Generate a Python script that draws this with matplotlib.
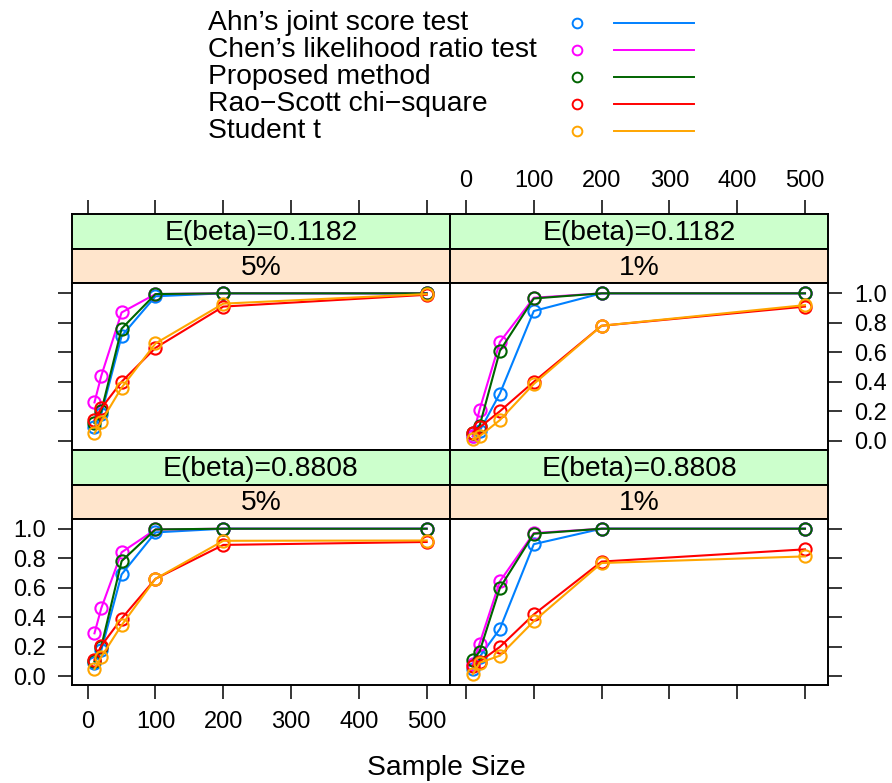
import numpy as np
import matplotlib.pyplot as plt
from matplotlib.lines import Line2D

plt.rcParams["font.family"] = ["Liberation Sans", "DejaVu Sans"]

# sample sizes on the x axis
sample_size = [10, 20, 50, 100, 200, 500]

methods = [
    "Ahn\u2019s joint score test",
    "Chen\u2019s likelihood ratio test",
    "Proposed method",
    "Rao\u2212Scott chi\u2212square",
    "Student t",
]
method_colors = ["#0080ff", "#ff00ff", "#006400", "#ff0000", "#ffa500"]

# empirical power, one row per method (same order as `methods`)
power_b1182_5 = [
    [0.09, 0.18, 0.71, 0.98, 1.0, 1.0],
    [0.26, 0.44, 0.87, 0.995, 1.0, 1.0],
    [0.12, 0.20, 0.76, 0.995, 1.0, 1.0],
    [0.14, 0.22, 0.40, 0.63, 0.91, 0.99],
    [0.05, 0.13, 0.36, 0.66, 0.93, 0.995],
]
power_b1182_1 = [
    [0.03, 0.065, 0.32, 0.88, 1.0, 1.0],
    [0.03, 0.21, 0.67, 0.97, 1.0, 1.0],
    [0.05, 0.10, 0.61, 0.965, 1.0, 1.0],
    [0.055, 0.09, 0.20, 0.40, 0.78, 0.91],
    [0.01, 0.03, 0.14, 0.385, 0.78, 0.92],
]
power_b8808_5 = [
    [0.085, 0.175, 0.69, 0.975, 1.0, 1.0],
    [0.29, 0.46, 0.84, 0.995, 1.0, 1.0],
    [0.10, 0.20, 0.78, 0.995, 1.0, 1.0],
    [0.11, 0.205, 0.39, 0.66, 0.89, 0.91],
    [0.047, 0.13, 0.345, 0.66, 0.918, 0.92],
]
power_b8808_1 = [
    [0.05, 0.13, 0.32, 0.895, 1.0, 1.0],
    [0.08, 0.22, 0.643, 0.97, 1.0, 1.0],
    [0.108, 0.165, 0.598, 0.966, 1.0, 1.0],
    [0.07, 0.097, 0.198, 0.418, 0.777, 0.86],
    [0.012, 0.09, 0.138, 0.372, 0.767, 0.812],
]

beta_labels = ["E(beta)=0.1182", "E(beta)=0.8808"]
level_labels = ["5%", "1%"]
x_ticks = [0, 100, 200, 300, 400, 500]
y_ticks = [0.0, 0.2, 0.4, 0.6, 0.8, 1.0]

W, H = 892, 783
fig = plt.figure(figsize=(W / 100, H / 100), dpi=100)


def px_box(left, top, right, bottom):
    return [left / W, 1 - bottom / H, (right - left) / W, (bottom - top) / H]


cols = [(71.7, 450.0), (450.0, 828.3)]
# green strip top, tan strip top, panel top, panel bottom
rows = [(214.0, 248.5, 283.3, 450.0), (450.0, 484.5, 518.7, 685.3)]
panels = [[power_b1182_5, power_b1182_1], [power_b8808_5, power_b8808_1]]

XLIM = (-23.6, 534.4)
YLIM = (-0.063, 1.068)
TICK_LEN = 9.8
TICK_PAD = 9.0
TICK_FS = 17
TEXT_FS = 20.3

for r, (g_top, t_top, p_top, p_bot) in enumerate(rows):
    for c, (left, right) in enumerate(cols):
        # strips: outer (beta) in green, inner (level) in tan
        for (s_top, s_bot, color, label) in [
            (g_top, t_top, "#ccffcc", beta_labels[r]),
            (t_top, p_top, "#ffe5cc", level_labels[c]),
        ]:
            sax = fig.add_axes(px_box(left, s_top, right, s_bot))
            sax.set_facecolor(color)
            sax.set_xlim(XLIM)
            sax.set_yticks([])
            sax.set_xticks([])
            for sp in sax.spines.values():
                sp.set_linewidth(1.4)
            sax.text(0.5, 0.45, label, transform=sax.transAxes,
                     ha="center", va="center", fontsize=TEXT_FS)
            if r == 0 and color == "#ccffcc":
                sax.set_xticks(x_ticks)
                sax.xaxis.set_ticks_position("top")
                sax.tick_params(axis="x", direction="out", length=TICK_LEN,
                                width=1.1, pad=6.0, labelsize=TICK_FS,
                                labeltop=(c == 1), labelbottom=False)

        ax = fig.add_axes(px_box(left, p_top, right, p_bot))
        data = panels[r][c]
        for vals, color in zip(data, method_colors):
            ax.plot(sample_size, vals, color=color, lw=1.5, marker="o",
                    ms=8.8, mfc="none", mec=color, mew=1.5)
        ax.set_xlim(XLIM)
        ax.set_ylim(YLIM)
        for sp in ax.spines.values():
            sp.set_linewidth(1.4)

        ax.set_xticks(x_ticks if r == 1 else [])
        ax.tick_params(axis="x", direction="out", length=TICK_LEN, width=1.1,
                       pad=TICK_PAD, labelsize=TICK_FS,
                       labelbottom=(c == 0))
        ax.set_yticks(y_ticks)
        ax.set_yticklabels([f"{v:.1f}" for v in y_ticks])
        if c == 0:
            ax.yaxis.set_ticks_position("left")
            ax.tick_params(axis="y", labelleft=(r == 1))
        else:
            ax.yaxis.set_ticks_position("right")
            ax.tick_params(axis="y", labelright=(r == 0))
        ax.tick_params(axis="y", direction="out", length=TICK_LEN, width=1.1,
                       pad=TICK_PAD, labelsize=TICK_FS)

fig.text(446 / W, 1 - 768 / H, "Sample Size", ha="center", va="center",
         fontsize=TEXT_FS)

# key above the panels
kax = fig.add_axes([0, 0, 1, 1])
kax.set_xlim(0, W)
kax.set_ylim(H, 0)
kax.axis("off")
kax.patch.set_alpha(0)
for i, (name, color) in enumerate(zip(methods, method_colors)):
    y = 22.5 + 27.1 * i
    kax.text(207.6, y, name, ha="left", va="center", fontsize=TEXT_FS)
    kax.plot([576.5], [y], marker="o", ms=7.0, mfc="none", mec=color, mew=1.4)
    kax.add_line(Line2D([613.8, 693.8], [y, y], color=color, lw=1.4))

fig.savefig("out.png", dpi=100)
